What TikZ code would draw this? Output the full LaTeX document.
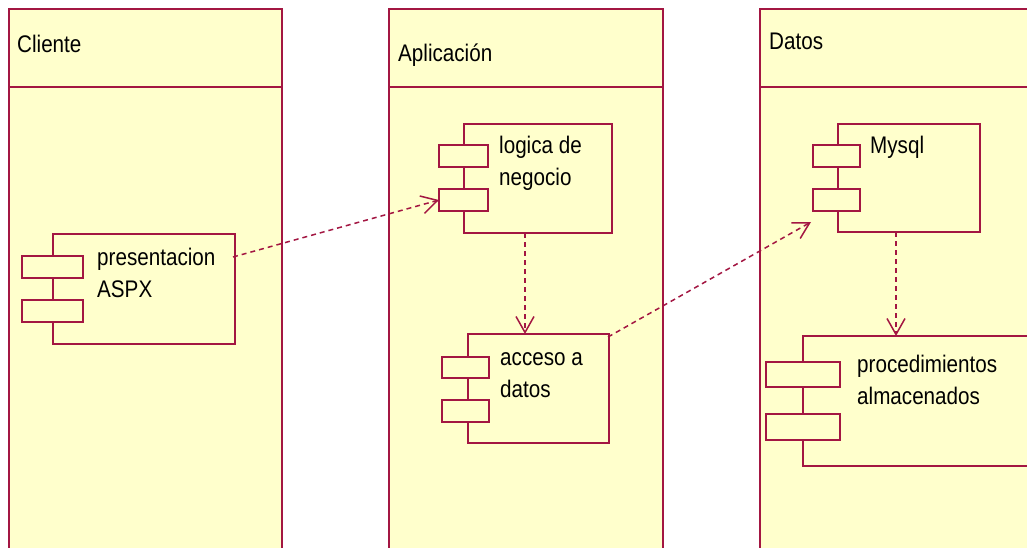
\documentclass[tikz,border=0pt]{standalone}
\usepackage{fontspec}
\setmainfont{Liberation Sans}[FakeStretch=0.86]
\usetikzlibrary{arrows.meta,calc}
\definecolor{umlline}{RGB}{163,22,66}
\definecolor{umlfill}{RGB}{255,255,204}
\begin{document}
\begin{tikzpicture}[x=1pt,y=-1pt,
  box/.style={draw=umlline,fill=umlfill,line width=1.6pt,rectangle,inner sep=0pt,outer sep=0pt,anchor=north west},
  lbl/.style={inner sep=0pt,anchor=base west,font=\fontsize{24}{32}\selectfont,text=black},
  dep/.style={draw=umlline,line width=1.5pt,dash pattern=on 5pt off 4pt,
    -{Straight Barb[length=16pt,width=18pt,line width=1.5pt]}}]
\useasboundingbox (0,0) rectangle (1027,547);
\clip (0,0) rectangle (1027,547);
\fill[white] (0,0) rectangle (1027,547);
% lanes
\node[box,minimum width=273pt,minimum height=78pt] (clih) at (9,9) {};
\node[box,minimum width=273pt,minimum height=480pt] (clib) at (9,87) {};
\node[box,minimum width=274pt,minimum height=78pt] (apph) at (389,9) {};
\node[box,minimum width=274pt,minimum height=480pt] (appb) at (389,87) {};
\node[box,minimum width=300pt,minimum height=78pt] (dath) at (760,9) {};
\node[box,minimum width=300pt,minimum height=480pt] (datb) at (760,87) {};
\node[lbl] (clit) at (17,52) {Cliente};
\node[lbl] (appt) at (398,61) {Aplicación};
\node[lbl] (datt) at (769,49) {Datos};
% presentacion
\node[box,minimum width=182pt,minimum height=110pt] (pres) at (53,234) {};
\node[box,minimum width=61pt,minimum height=22pt] (presa) at (22,256) {};
\node[box,minimum width=61pt,minimum height=22pt] (presb) at (22,300) {};
\node[lbl] (prest1) at (97,265) {presentacion};
\node[lbl] (prest2) at (97,297) {ASPX};
% logica de negocio
\node[box,minimum width=148pt,minimum height=109pt] (log) at (464,124) {};
\node[box,minimum width=49pt,minimum height=22pt] (loga) at (439,145) {};
\node[box,minimum width=49pt,minimum height=22pt] (logb) at (439,189) {};
\node[lbl] (logt1) at (499,153) {logica de};
\node[lbl] (logt2) at (499,185) {negocio};
% acceso a datos
\node[box,minimum width=141pt,minimum height=109pt] (acc) at (468,334) {};
\node[box,minimum width=47pt,minimum height=21pt] (acca) at (442,357) {};
\node[box,minimum width=47pt,minimum height=22pt] (accb) at (442,400) {};
\node[lbl] (acct1) at (500,365) {acceso a};
\node[lbl] (acct2) at (500,397) {datos};
% Mysql
\node[box,minimum width=142pt,minimum height=108pt] (mys) at (838,124) {};
\node[box,minimum width=47pt,minimum height=22pt] (mysa) at (813,145) {};
\node[box,minimum width=47pt,minimum height=22pt] (mysb) at (813,189) {};
\node[lbl] (myst) at (870,153) {Mysql};
% procedimientos almacenados
\node[box,minimum width=260pt,minimum height=130pt] (proc) at (803,336) {};
\node[box,minimum width=74pt,minimum height=25pt] (proca) at (766,362) {};
\node[box,minimum width=74pt,minimum height=26pt] (procb) at (766,414) {};
\node[lbl] (proct1) at (857,372) {procedimientos};
\node[lbl] (proct2) at (857,404) {almacenados};
% dependencies
\draw[dep] ($(pres.north east)+(-2,23)$) -- (logb.west);
\draw[dep] ($(log.south west)+(61,0)$) -- ($(acc.north west)+(57,0)$);
\draw[dep] ($(acc.north east)+(-1,3)$) -- ($(mysb.south west)+(-2,11)$);
\draw[dep] ($(mys.south west)+(58,0)$) -- ($(proc.north west)+(93,0)$);
\end{tikzpicture}
\end{document}
